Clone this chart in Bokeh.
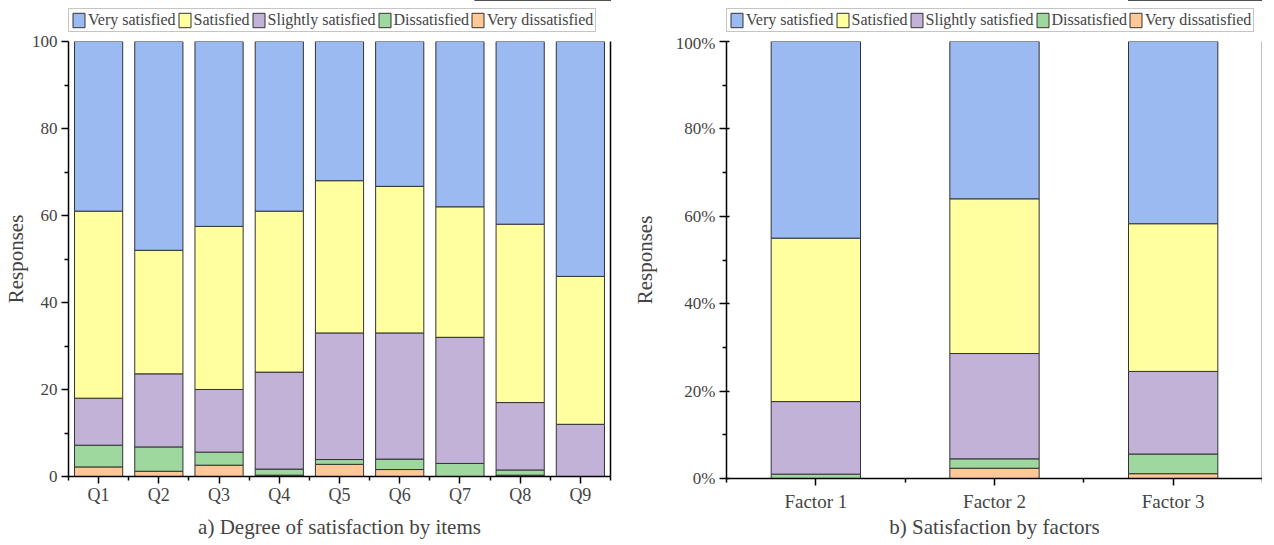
from bokeh.plotting import figure
from bokeh.layouts import row, column
from bokeh.models import (ColumnDataSource, Legend, LegendItem, FixedTicker,
                          LinearAxis, Range1d, PrintfTickFormatter)
from bokeh.embed import file_html
from bokeh.resources import INLINE

# ---------------- data ----------------
levels = ["Very dissatisfied", "Dissatisfied", "Slightly satisfied", "Satisfied", "Very satisfied"]
colors = ["#ffc896", "#9ed89e", "#c2b2d7", "#ffff9f", "#9bbaf2"]

items = ["Q1", "Q2", "Q3", "Q4", "Q5", "Q6", "Q7", "Q8", "Q9"]
items_very_dissatisfied = [2.2, 1.2, 2.6, 0.3, 2.8, 1.6, 0.0, 0.3, 0.0]
items_dissatisfied      = [5.0, 5.6, 3.0, 1.4, 1.1, 2.4, 3.0, 1.2, 0.0]
items_slightly          = [10.8, 16.8, 14.4, 22.3, 29.1, 29.0, 29.0, 15.5, 12.0]
items_satisfied         = [43.0, 28.4, 37.5, 37.0, 35.0, 33.7, 30.0, 41.0, 34.0]
items_very_satisfied    = [39.0, 48.0, 42.5, 39.0, 32.0, 33.3, 38.0, 42.0, 54.0]

factors = ["Factor 1", "Factor 2", "Factor 3"]
factors_very_dissatisfied = [0.0, 2.35, 1.1]
factors_dissatisfied      = [1.0, 2.15, 4.5]
factors_slightly          = [16.6, 24.1, 18.9]
factors_satisfied         = [37.4, 35.4, 33.8]
factors_very_satisfied    = [45.0, 36.0, 41.7]

y_ticks = [0, 20, 40, 60, 80, 100]
y_minor = [10, 30, 50, 70, 90]

FONT = "Liberation Serif"
LINE = "#333333"


def make_source(cats, series):
    data = {"x": list(range(1, len(cats) + 1))}
    for lvl, vals in zip(levels, series):
        data[lvl] = vals
    return ColumnDataSource(data)


def make_legend_fig(cats, series, frame_w, left, right):
    # a thin strip above each chart that only carries the legend
    src = make_source(cats, series)
    lf = figure(frame_width=frame_w, frame_height=33, x_range=Range1d(0, 1),
                y_range=Range1d(-2, -1), output_backend="svg", toolbar_location=None,
                x_axis_location=None, y_axis_location=None,
                min_border_left=left, min_border_right=right,
                min_border_top=0, min_border_bottom=0)
    lf.xgrid.grid_line_color = None
    lf.ygrid.grid_line_color = None
    lf.outline_line_color = None
    rends = lf.vbar_stack(levels, x="x", width=0.5, fill_color=colors,
                          line_color=LINE, line_width=1, source=src)
    legend_items = [LegendItem(label=levels[i], renderers=[rends[i]])
                    for i in range(len(levels) - 1, -1, -1)]
    legend = Legend(items=legend_items, orientation="horizontal", location=(0, 1),
                    label_text_font=FONT, label_text_font_size="16px",
                    glyph_width=15, glyph_height=18, label_standoff=2, spacing=1,
                    padding=2, margin=0, border_line_color="#8c8c8c",
                    border_line_width=1, label_height=18)
    lf.add_layout(legend)
    return lf


def make_chart(cats, series, frame_w, frame_h, bar_width, borders, title, pct,
               xlab_size, xlab_standoff, title_standoff, ylab_standoff):
    n = len(cats)
    xs = list(range(1, n + 1))
    src = make_source(cats, series)

    p = figure(frame_width=frame_w, frame_height=frame_h, x_range=Range1d(0.5, n + 0.5),
               y_range=Range1d(0, 100), output_backend="svg", toolbar_location=None,
               min_border_left=borders[0], min_border_right=borders[1],
               min_border_top=borders[2], min_border_bottom=borders[3])
    p.vbar_stack(levels, x="x", width=bar_width, fill_color=colors,
                 line_color=LINE, line_width=1, source=src)

    p.xgrid.grid_line_color = None
    p.ygrid.grid_line_color = None
    p.outline_line_color = None

    # x axis
    xa = p.xaxis[0]
    xa.ticker = FixedTicker(ticks=xs, minor_ticks=[0.5 + i for i in range(n + 1)])
    xa.major_label_overrides = {x: c for x, c in zip(xs, cats)}
    xa.axis_label = title
    xa.axis_label_text_font = FONT
    xa.axis_label_text_font_style = "normal"
    xa.axis_label_text_font_size = "21px"
    xa.axis_label_standoff = title_standoff
    xa.major_label_text_font = FONT
    xa.major_label_text_font_size = xlab_size
    xa.major_label_standoff = xlab_standoff
    xa.major_tick_in = 0
    xa.major_tick_out = 7
    xa.minor_tick_in = 0
    xa.minor_tick_out = 4
    xa.axis_line_width = 1.5
    xa.major_tick_line_width = 1.5
    xa.minor_tick_line_width = 1.5
    xa.axis_line_color = "black"

    # y axis
    ya = p.yaxis[0]
    ya.ticker = FixedTicker(ticks=y_ticks, minor_ticks=y_minor)
    if pct:
        ya.formatter = PrintfTickFormatter(format="%d%%")
        ya.major_tick_in = 3
    else:
        ya.major_tick_in = 0
    ya.axis_label = "Responses"
    ya.axis_label_text_font = FONT
    ya.axis_label_text_font_style = "normal"
    ya.axis_label_text_font_size = "21px"
    ya.axis_label_standoff = ylab_standoff
    ya.major_label_text_font = FONT
    ya.major_label_text_font_size = "17px"
    ya.major_label_standoff = 4
    ya.major_tick_out = 7
    ya.minor_tick_in = 0
    ya.minor_tick_out = 4
    ya.axis_line_width = 1.5
    ya.major_tick_line_width = 1.5
    ya.minor_tick_line_width = 1.5

    right = LinearAxis(ticker=FixedTicker(ticks=[]), major_label_text_font_size="0px",
                       major_tick_line_color=None, minor_tick_line_color=None,
                       major_label_standoff=0, axis_line_width=1.5, axis_line_color="black")
    p.add_layout(right, "right")
    return p


items_series = [items_very_dissatisfied, items_dissatisfied, items_slightly,
                items_satisfied, items_very_satisfied]
factors_series = [factors_very_dissatisfied, factors_dissatisfied, factors_slightly,
                  factors_satisfied, factors_very_satisfied]

p1 = make_chart(items, items_series, 542, 435, 0.8, (62, 13, 8, 40),
                "a) Degree of satisfaction by items", False,
                "18px", 1, 7, 1)
p2 = make_chart(factors, factors_series, 536, 437, 0.5, (103, 0, 8, 40),
                "b) Satisfaction by factors", True,
                "19px", 5, 0, 16)

l1 = make_legend_fig(items, items_series, 542, 62, 13)
l2 = make_legend_fig(factors, factors_series, 536, 103, 0)

layout = row(column(l1, p1), column(l2, p2))
open("out.html", "w").write(file_html(layout, INLINE))
